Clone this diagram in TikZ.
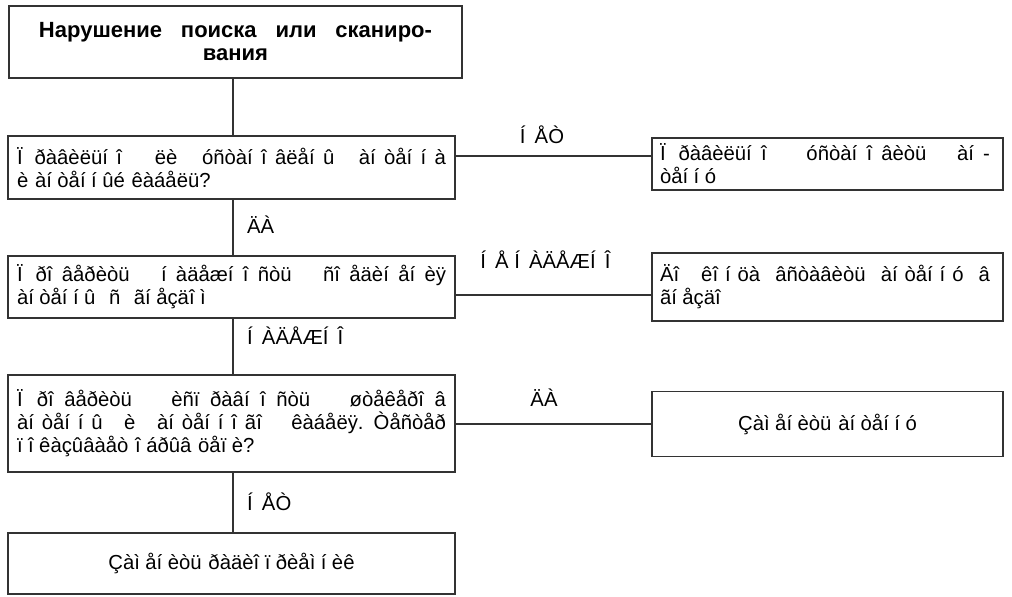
\documentclass[tikz,border=0pt]{standalone}
\usepackage{fontspec}
\setmainfont{Liberation Sans}
% glyphs of the narrow i-letters keep the advance width of the wider letters they stand for
\XeTeXinterchartokenstate=1
\newXeTeXintercharclass\nlow
\newXeTeXintercharclass\nup
\XeTeXcharclass"00EC=\nlow \XeTeXcharclass"00ED=\nlow \XeTeXcharclass"00EE=\nlow \XeTeXcharclass"00EF=\nlow
\XeTeXcharclass"00CC=\nup \XeTeXcharclass"00CD=\nup \XeTeXcharclass"00CE=\nup \XeTeXcharclass"00CF=\nup
\newcommand\gapsto[2]{%
  \XeTeXinterchartoks\nlow 0 {#1}\XeTeXinterchartoks\nlow\nlow {#1}%
  \XeTeXinterchartoks\nlow\nup {#1}\XeTeXinterchartoks\nlow 4095 {#1}%
  \XeTeXinterchartoks\nup 0 {#2}\XeTeXinterchartoks\nup\nlow {#2}%
  \XeTeXinterchartoks\nup\nup {#2}\XeTeXinterchartoks\nup 4095 {#2}}
\gapsto{\kern.27em}{\kern.45em}
\newcommand\jl[2]{{\gapsto{\hskip.27em plus .15fil\relax}{\hskip.45em plus .15fil\relax}%
  \spaceskip=\fontdimen2\font plus 1fil\relax\makebox[#1][s]{#2}}}
\begin{document}
\begin{tikzpicture}[x=1pt,y=-1pt,
  box/.style={draw=black!80, line width=1.3pt, inner sep=0pt, font=\fontsize{20.3}{23}\selectfont},
  lbox/.style={box, minimum width=447pt, text width=429pt, align=left},
  rbox/.style={box, minimum width=351pt, text width=335pt, align=left},
  lbl/.style={font=\fontsize{20.3}{23}\selectfont, inner sep=0pt},
  conn/.style={draw=black!80, line width=1.3pt}]
\useasboundingbox (0,0) rectangle (1012,597);
\node[box, minimum width=453pt, minimum height=72pt, text width=440pt, align=center] (b1) at (235.5,42)
  {\bfseries\fontsize{22}{24}\selectfont \jl{393pt}{Нарушение поиска или сканиро-}\\вания};
\node[lbox, minimum height=63pt] (b2) at (231.5,167.5)
  {\jl{429pt}{Ïðàâèëüíî ëè óñòàíîâëåíû àíòåííà}\\è àíòåííûé êàáåëü?};
\node[rbox, minimum height=52pt] (b3) at (827.5,164)
  {\jl{330pt}{Ïðàâèëüíî óñòàíîâèòü àí-}\\òåííó};
\node[lbox, minimum height=62pt] (b4) at (231.5,287)
  {\jl{429pt}{Ïðîâåðèòü íàäåæíîñòü ñîåäèíåíèÿ}\\àíòåííû\ \ ñ\ \ ãíåçäîì};
\node[rbox, minimum height=68pt] (b5) at (827.5,287)
  {\jl{330pt}{Äî êîíöà âñòàâèòü àíòåííó â}\\ãíåçäî};
\node[lbox, minimum height=97pt] (b6) at (231.5,423.5)
  {\jl{429pt}{Ïðîâåðèòü èñïðàâíîñòü øòåêåðîâ}\\
   \jl{429pt}{àíòåííû è àíòåííîãî êàáåëÿ. Òåñòåð}\\
   ïîêàçûâàåò îáðûâ öåïè?};
\node[box, minimum width=351pt, minimum height=65pt, text width=335pt, align=center] (b7) at (827.5,424)
  {Çàìåíèòü àíòåííó};
\node[box, minimum width=447pt, minimum height=61pt, text width=429pt, align=center] (b8) at (231.5,563.5)
  {Çàìåíèòü ðàäèîïðèåìíèê};
\coordinate (v) at (233,0);
\coordinate (h1) at (0,156);
\coordinate (h2) at (0,295);
\coordinate (h3) at (0,424);
\draw[conn] (b1.south -| v) -- (b2.north -| v);
\draw[conn] (b2.south -| v) -- (b4.north -| v);
\draw[conn] (b4.south -| v) -- (b6.north -| v);
\draw[conn] (b6.south -| v) -- (b8.north -| v);
\draw[conn] (b2.east |- h1) -- (b3.west |- h1);
\draw[conn] (b4.east |- h2) -- (b5.west |- h2);
\draw[conn] (b6.east |- h3) -- (b7.west |- h3);
\node[lbl] (l1) at (542,135) {ÍÅÒ};
\node[lbl, anchor=west] (l2) at (247,225) {ÄÀ};
\node[lbl] (l3) at (550,260) {ÍÅ ÍÀÄÅÆÍÎ};
\node[lbl, anchor=west] (l4) at (247,336) {ÍÀÄÅÆÍÎ};
\node[lbl] (l5) at (544,398) {ÄÀ};
\node[lbl, anchor=west] (l6) at (247,502) {ÍÅÒ};
\end{tikzpicture}
\end{document}
